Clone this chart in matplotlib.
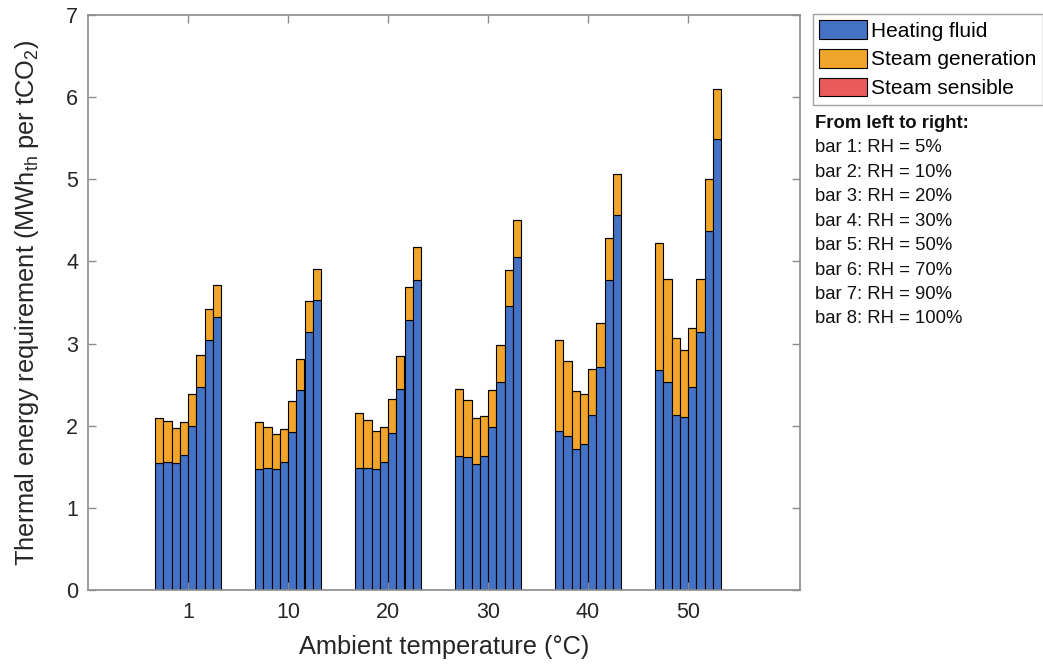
import matplotlib
matplotlib.use("Agg")
import matplotlib.pyplot as plt
import numpy as np

plt.rcParams['font.family'] = ['Liberation Sans', 'DejaVu Sans']
plt.rcParams['mathtext.default'] = 'regular'

temperatures = ['1', '10', '20', '30', '40', '50']
rh_labels = ['5%', '10%', '20%', '30%', '50%', '70%', '90%', '100%']

# Heating fluid (bottom segment), rows = temperature groups, columns = RH bars
heating_fluid = [
    [1.55, 1.56, 1.55, 1.64, 2.00, 2.47, 3.04, 3.32],
    [1.47, 1.48, 1.47, 1.56, 1.92, 2.43, 3.14, 3.53],
    [1.49, 1.49, 1.47, 1.56, 1.91, 2.45, 3.29, 3.77],
    [1.63, 1.62, 1.54, 1.63, 1.98, 2.53, 3.46, 4.06],
    [1.93, 1.87, 1.72, 1.78, 2.13, 2.72, 3.77, 4.56],
    [2.68, 2.53, 2.13, 2.11, 2.47, 3.14, 4.37, 5.49],
]
# Totals (heating fluid + steam generation)
totals = [
    [2.10, 2.06, 1.97, 2.04, 2.39, 2.86, 3.42, 3.71],
    [2.04, 1.99, 1.90, 1.96, 2.30, 2.81, 3.52, 3.91],
    [2.15, 2.07, 1.94, 1.99, 2.32, 2.85, 3.69, 4.18],
    [2.45, 2.31, 2.09, 2.12, 2.44, 2.98, 3.90, 4.50],
    [3.04, 2.79, 2.42, 2.39, 2.69, 3.25, 4.28, 5.06],
    [4.23, 3.79, 3.07, 2.92, 3.19, 3.79, 5.00, 6.10],
]
steam_sensible = [[0.0] * 8 for _ in range(6)]

hf = np.array(heating_fluid)
sg = np.array(totals) - hf
ss = np.array(steam_sensible)

c_blue = '#4472C4'
c_orange = '#F2A52C'
c_red = '#EB5A5A'
txt = '#262626'

fig = plt.figure(figsize=(10.43, 6.69), dpi=100)
ax = fig.add_axes([88/1043, 1 - 590/669, 712/1043, 575/669])

n_groups, n_bars = hf.shape
group_pos = np.arange(1, n_groups + 1)
bw = 0.0825
offsets = (np.arange(n_bars) - (n_bars - 1) / 2) * bw

for j in range(n_bars):
    x = group_pos + offsets[j]
    ax.bar(x, hf[:, j], width=bw, color=c_blue, edgecolor='black', linewidth=0.8,
           label='Heating fluid' if j == 0 else None)
    ax.bar(x, sg[:, j], width=bw, bottom=hf[:, j], color=c_orange, edgecolor='black',
           linewidth=0.8, label='Steam generation' if j == 0 else None)
    ax.bar(x, ss[:, j], width=bw, bottom=hf[:, j] + sg[:, j], color=c_red,
           edgecolor='black', linewidth=0.8, label='Steam sensible' if j == 0 else None)

ax.set_xlim(0, 7.12)
ax.set_ylim(0, 7)
ax.set_xticks(group_pos)
ax.set_xticklabels(temperatures)
ax.set_yticks(range(0, 8))
ax.tick_params(direction='in', top=True, right=True, labelsize=15.5, length=6,
               width=1.0, color='#8c8c8c', labelcolor=txt)
ax.tick_params(axis='x', pad=9)
ax.tick_params(axis='y', pad=7)
for s in ax.spines.values():
    s.set_color('#8c8c8c')
    s.set_linewidth(1.2)

ax.set_xlabel('Ambient temperature (°C)', fontsize=18.3, color=txt, labelpad=8)
ax.set_ylabel('Thermal energy requirement (MWh$_{th}$ per tCO$_2$)', fontsize=18.3,
              color=txt, labelpad=18)

leg = ax.legend(loc='upper left', bbox_to_anchor=(813/1043, 1 - 14/669),
                bbox_transform=fig.transFigure, fontsize=15, frameon=True,
                fancybox=False, edgecolor='#8c8c8c', handlelength=2.3,
                handleheight=1.0, handletextpad=0.2, borderpad=0.3,
                labelspacing=0.4, borderaxespad=0)
leg.get_frame().set_linewidth(1.0)

fig.text(815/1043, 1 - 123/669, 'From left to right:', fontsize=13.3, fontweight='bold',
         va='center', ha='left', color='#111111')
for i, lab in enumerate(rh_labels):
    fig.text(815/1043, 1 - (148 + i * 24.4)/669, f'bar {i+1}: RH = {lab}', fontsize=13.3,
             va='center', ha='left', color='#111111')

fig.savefig('out.png', dpi=100)
